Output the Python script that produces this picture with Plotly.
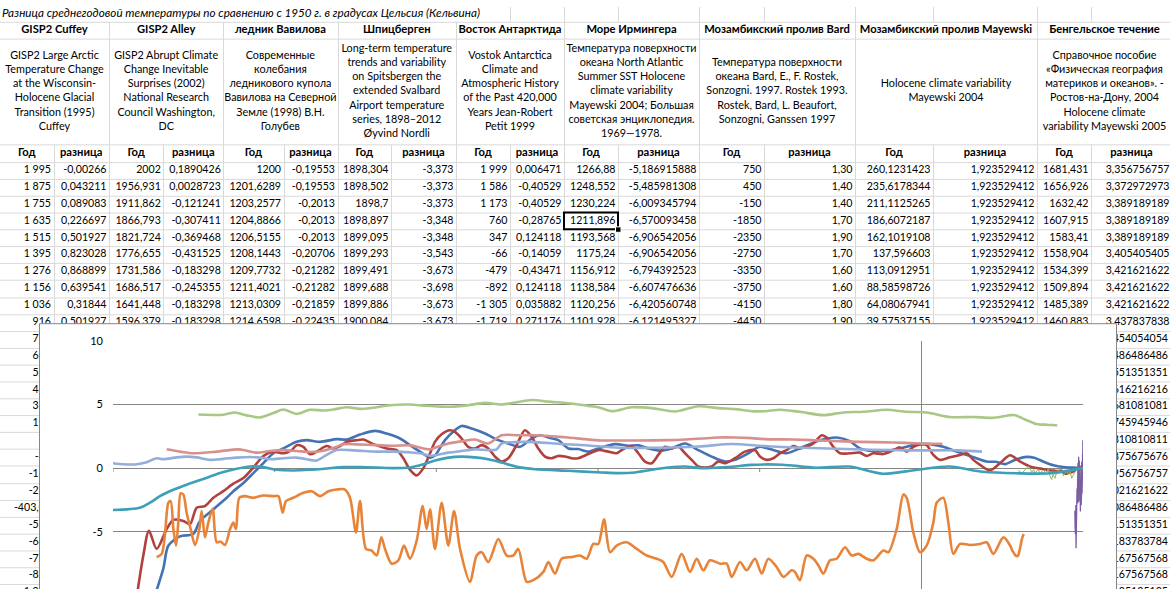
import plotly.graph_objects as go

# ======================= spreadsheet content =======================
SHEET_TITLE = "Разница среднегодовой температуры по сравнению с 1950 г. в градусах Цельсия (Кельвина)"
SOURCES = ["GISP2 Cuffey", "GISP2 Alley", "ледник Вавилова", "Шпицберген", "Восток Антарктида",
           "Море Ирмингера", "Мозамбикский пролив Bard", "Мозамбикский пролив Mayewski",
           "Бенгельское течение"]
DESCRIPTIONS = [
    "GISP2 Large Arctic<br>Temperature Change<br>at the Wisconsin-<br>Holocene Glacial<br>Transition (1995)<br>Cuffey",
    "GISP2 Abrupt Climate<br>Change Inevitable<br>Surprises (2002)<br>National Research<br>Council Washington,<br>DC",
    "Современные<br>колебания<br>ледникового купола<br>Вавилова на Северной<br>Земле (1998) В.Н.<br>Голубев",
    "Long-term temperature<br>trends and variability<br>on Spitsbergen the<br>extended Svalbard<br>Airport temperature<br>series, 1898–2012<br>Øyvind Nordli",
    "Vostok Antarctica<br>Climate and<br>Atmospheric History<br>of the Past 420,000<br>Years Jean-Robert<br>Petit 1999",
    "Температура поверхности<br>океана North Atlantic<br>Summer SST Holocene<br>climate variability<br>Mayewski 2004; Большая<br>советская энциклопедия.<br>1969—1978.",
    "Температура поверхности<br>океана Bard, E., F. Rostek,<br>Sonzogni. 1997. Rostek 1993.<br>Rostek, Bard, L. Beaufort,<br>Sonzogni, Ganssen 1997",
    "Holocene climate variability<br>Mayewski 2004",
    "Справочное пособие<br>«Физическая география<br>материков и океанов». -<br>Ростов-на-Дону, 2004<br>Holocene climate<br>variability Mayewski 2005",
]
SUBHEAD = ["Год", "разница"]
TABLE_ROWS = [
    ["1 995", "-0,00266", "2002", "0,1890426", "1200", "-0,19553", "1898,304", "-3,373", "1 999", "0,006471", "1266,88", "-5,186915888", "750", "1,30", "260,1231423", "1,923529412", "1681,431", "3,356756757"],
    ["1 875", "0,043211", "1956,931", "0,0028723", "1201,6289", "-0,19553", "1898,502", "-3,373", "1 586", "-0,40529", "1248,552", "-5,485981308", "450", "1,40", "235,6178344", "1,923529412", "1656,926", "3,372972973"],
    ["1 755", "0,089083", "1911,862", "-0,121241", "1203,2577", "-0,2013", "1898,7", "-3,373", "1 173", "-0,40529", "1230,224", "-6,009345794", "-150", "1,40", "211,1125265", "1,923529412", "1632,42", "3,389189189"],
    ["1 635", "0,226697", "1866,793", "-0,307411", "1204,8866", "-0,2013", "1898,897", "-3,348", "760", "-0,28765", "1211,896", "-6,570093458", "-1850", "1,70", "186,6072187", "1,923529412", "1607,915", "3,389189189"],
    ["1 515", "0,501927", "1821,724", "-0,369468", "1206,5155", "-0,2013", "1899,095", "-3,348", "347", "0,124118", "1193,568", "-6,906542056", "-2350", "1,90", "162,1019108", "1,923529412", "1583,41", "3,389189189"],
    ["1 395", "0,823028", "1776,655", "-0,431525", "1208,1443", "-0,20706", "1899,293", "-3,543", "-66", "-0,14059", "1175,24", "-6,906542056", "-2750", "1,70", "137,596603", "1,923529412", "1558,904", "3,405405405"],
    ["1 276", "0,868899", "1731,586", "-0,183298", "1209,7732", "-0,21282", "1899,491", "-3,673", "-479", "-0,43471", "1156,912", "-6,794392523", "-3350", "1,60", "113,0912951", "1,923529412", "1534,399", "3,421621622"],
    ["1 156", "0,639541", "1686,517", "-0,245355", "1211,4021", "-0,21282", "1899,688", "-3,698", "-892", "0,124118", "1138,584", "-6,607476636", "-3750", "1,60", "88,58598726", "1,923529412", "1509,894", "3,421621622"],
    ["1 036", "0,31844", "1641,448", "-0,183298", "1213,0309", "-0,21859", "1899,886", "-3,673", "-1 305", "0,035882", "1120,256", "-6,420560748", "-4150", "1,80", "64,08067941", "1,923529412", "1485,389", "3,421621622"],
    ["916", "0,501927", "1596,379", "-0,183298", "1214,6598", "-0,22435", "1900,084", "-3,673", "-1 719", "0,271176", "1101,928", "-6,121495327", "-4450", "1,90", "39,57537155", "1,923529412", "1460,883", "3,437837838"],
]
COL_A_BELOW = ["796", "676", "556", "436", "316", "196", "76", "-44", "-164", "-284", "-403,05",
               "-523", "-643", "-763", "-883", "-1 003"]
COL_R_BELOW = ["3,454054054", "3,486486486", "3,551351351", "3,616216216", "3,681081081",
               "3,745945946", "3,810810811", "3,875675676", "3,956756757", "4,021621622",
               "4,086486486", "4,151351351", "4,183783784", "4,167567568", "4,167567568",
               "4,135135135"]

# ======================= chart data (year, difference) =======================
CUFFEY_YEAR = [-9600, -9378, -9316, -9171, -9007, -8924, -8759, -8594, -8511, -8387, -8264, -8140, -8016,
               -7893, -7728, -7604, -7439, -7233, -7109, -6944, -6758, -6614, -6449, -6325, -6202, -6078,
               -6017, -5954, -5893, -5770, -5687, -5563, -5398, -5233, -5110, -4965, -4821, -4718, -4615,
               -4491, -4367, -4244, -4120, -3996, -3790, -3625, -3501, -3378, -3213, -3089, -2924, -2759,
               -2594, -2429, -2305, -2140, -1996, -1831, -1666, -1460, -1254, -1047, -883, -759, -594,
               -429, -264, -58, 107, 272, 437, 602, 808, 916, 1036, 1156, 1276, 1395, 1515, 1635, 1755,
               1875, 1995]
CUFFEY_DIFF = [-12.3, -7.9, -6.1, -5.36, -5.18, -4.15, -3.24, -2.33, -1.81, -1.17, -0.39, 0.39, 1.17,
               1.55, 2.07, 2.2, 2.07, 2.28, 2.25, 2.64, 2.93, 2.72, 2.33, 1.81, 1.3, 0.83,
               1.0, 1.6, 2.2, 2.98, 3.32, 3.11, 2.72, 2.2, 1.94, 1.68, 2.33, 2.59, 2.41,
               2.2, 1.55, 1.5, 1.3, 1.55, 1.89, 1.76, 1.79, 1.55, 1.37, 1.55, 1.94, 1.42,
               0.91, 0.52, 0.65, 1.17, 1.68, 1.42, 1.17, 1.68, 2.2, 2.41, 2.12, 1.55, 1.35,
               1.37, 1.55, 1.87, 1.89, 1.68, 1.3, 0.96, 0.52, 0.501927, 0.31844, 0.639541, 0.868899,
               0.823028, 0.501927, 0.226697, 0.089083, 0.043211, -0.00266]

ALLEY_YEAR = [-9750, -9625, -9555, -9460, -9336, -9254, -9130, -9047, -8965, -8862, -8759, -8635, -8511,
              -8387, -8264, -8140, -8016, -7893, -7790, -7728, -7645, -7563, -7480, -7356, -7274, -7191,
              -7109, -6985, -6903, -6779, -6614, -6490, -6408, -6325, -6243, -6160, -6078, -6017, -5935,
              -5831, -5770, -5687, -5605, -5522, -5440, -5357, -5275, -5192, -5110, -5007, -4904, -4821,
              -4739, -4656, -4574, -4491, -4409, -4326, -4244, -4120, -3996, -3873, -3769, -3708, -3584,
              -3501, -3419, -3336, -3254, -3171, -3089, -3006, -2924, -2841, -2759, -2677, -2594, -2512,
              -2429, -2305, -2182, -2058, -1996, -1914, -1831, -1749, -1666, -1584, -1501, -1419, -1336,
              -1233, -1171, -1089, -1006, -883, -759, -677, -594, -470, -346, -264, -181, -99, -16, 66,
              148, 231, 355, 478, 561, 643, 726, 850, 973, 1097, 1221, 1344, 1509, 1596.379, 1641.448,
              1686.517, 1731.586, 1776.655, 1821.724, 1866.793, 1911.862, 1956.931, 2002]
ALLEY_DIFF = [-12.0, -6.87, -4.92, -6.35, -4.79, -4.07, -4.15, -4.4, -3.11, -2.98, -2.33, -1.81, -1.22,
              -0.78, 0.05, 0.96, 1.3, 1.17, 1.42, 1.81, 1.68, 1.09, 1.3, 1.74, 1.55, 1.74,
              2.07, 2.2, 2.25, 1.89, 1.55, 1.42, 0.78, -0.13, -0.57, 0.0, 1.17, 2.07, 2.67,
              2.98, 2.85, 2.33, 1.68, 1.55, 1.81, 1.55, 0.91, 0.52, 0.78, 1.81, 2.98, 2.46,
              1.55, 0.91, 0.78, 0.96, 0.91, 0.78, 0.78, 1.11, 1.42, 1.3, 1.17, 1.42, 1.74,
              1.17, 0.52, 0.39, 1.04, 1.68, 1.55, 1.68, 1.17, 0.65, 0.13, 0.05, 0.13, 0.52,
              0.39, 0.78, 1.3, 1.42, 0.91, 0.65, 0.78, 1.17, 1.42, 1.74, 1.55, 1.68, 1.94,
              2.59, 2.41, 1.68, 1.17, 1.17, 1.22, 0.96, 1.17, 1.11, 1.42, 1.63, 1.3, 1.68, 1.87, 1.81,
              1.04, 0.65, 0.85, 1.04, 1.17, 0.65, 0.26, -0.18, 0.39, 1.01, 0.52, 0.13, -0.08, -0.183298, -0.183298,
              -0.245355, -0.183298, -0.431525, -0.369468, -0.307411, -0.121241, 0.0028723, 0.1890426]

VAVILOV_YEAR = [1200, 1201.6289, 1203.2577, 1204.8866, 1206.5155, 1208.1443, 1209.7732, 1211.4021,
                1213.0309, 1214.6598, 1230, 1262, 1290, 1324, 1345, 1365, 1390, 1406, 1430, 1448, 1470,
                1489, 1510, 1530, 1550, 1571, 1590, 1612, 1630, 1654, 1675, 1695, 1715, 1736, 1757,
                1777, 1800, 1819, 1840, 1860, 1880, 1901, 1930, 1960]
VAVILOV_DIFF = [-0.19553, -0.19553, -0.2013, -0.2013, -0.2013, -0.20706, -0.21282, -0.21282,
                -0.21859, -0.22435, -0.5, -0.3, -0.1, 0.15, 0.0, -0.35, -0.1, -0.4, -0.2, -0.1, -0.45,
                -0.25, -0.5, -0.15, -0.3, -0.05, -0.6, -0.9, -0.5, -0.8, -0.3, -0.1, -0.4, -0.2, -0.6,
                -0.4, -0.2, -0.5, -0.2, -0.8, -0.5, -0.3, -0.1, 0.1]

SPITS_YEAR = [1898.304, 1898.502, 1898.7, 1898.897, 1899.095, 1899.293, 1899.491, 1899.688, 1899.886,
              1900.084, 1902, 1904, 1906, 1908, 1910, 1912, 1914, 1916, 1918, 1920, 1922, 1924, 1926,
              1928, 1930, 1932, 1934, 1936, 1938, 1940, 1942, 1944, 1946, 1948, 1950, 1952, 1954, 1956,
              1958, 1960, 1962, 1964, 1966, 1968, 1970, 1972, 1974, 1976, 1978, 1980, 1982, 1984, 1986,
              1988, 1990, 1992, 1994, 1996, 1998, 2000, 2002, 2004, 2006, 2008, 2010, 2012]
SPITS_DIFF = [-3.373, -3.373, -3.373, -3.348, -3.348, -3.543, -3.673, -3.698, -3.673,
              -3.673, -4.6, -3.1, -5.2, -3.8, -4.9, -2.9, -6.3, -4.1, -5.6, -3.2, -2.1, -3.9, -1.6,
              -2.8, -0.9, -2.4, -0.6, -1.9, 0.4, -1.3, -2.7, -0.8, 0.9, -1.1, -0.3, -2.2, 0.6, -1.4,
              -0.5, -2.6, -1.2, -3.0, -1.8, -3.4, -1.0, -2.1, 0.2, -1.5, -2.9, -0.7, -1.9, 0.5, -1.2,
              -2.0, 0.3, -0.9, 1.1, -0.4, 2.2, 0.6, 1.5, -0.2, 1.8, 0.4, 1.2, 0.2]

VOSTOK_YEAR = [-10000, -9666, -9542, -9419, -9253, -9089, -8882, -8676, -8470, -8305, -8140, -7975, -7769,
               -7563, -7356, -7150, -6944, -6738, -6532, -6325, -6160, -6017, -5852, -5687, -5522, -5357,
               -5192, -4986, -4780, -4367, -3955, -3749, -3543, -3336, -3130, -2924, -2718, -2511, -2305,
               -2099, -1719, -1305, -892, -479, -66, 347, 760, 1173, 1586, 1999]
VOSTOK_DIFF = [-3.29, -3.11, -2.72, -2.2, -1.7, -1.3, -0.85, -0.39, -0.05, 0.13, 0.08, -0.13, -0.18,
               -0.13, -0.03, 0.08, 0.08, 0.05, 0.0, 0.05, 0.3, 0.6, 0.83, 0.91, 0.85, 0.7,
               0.44, 0.08, -0.08, -0.21, -0.34, -0.39, -0.34, -0.13, 0.05, 0.13, 0.0, 0.05, 0.13,
               0.26, 0.271176, 0.035882, 0.124118, -0.43471, -0.14059, 0.124118, -0.28765, -0.40529,
               -0.40529, 0.006471]

IRMINGER_YEAR = [-9460, -9398, -9357, -9315, -9287, -9253, -9220, -9192, -9163, -9130, -9089, -9039, -8985,
                 -8932, -8903, -8862, -8820, -8767, -8717, -8668, -8614, -8552, -8511, -8478, -8437, -8367,
                 -8264, -8140, -8016, -7955, -7901, -7860, -7769, -7645, -7542, -7439, -7336, -7233, -7130,
                 -7068, -6994, -6944, -6870, -6800, -6738, -6680, -6635, -6553, -6470, -6400, -6326, -6243,
                 -6169, -6120, -6078, -6017, -5934, -5852, -5781, -5707, -5584, -5501, -5439, -5357, -5233,
                 -5130, -5047, -4986, -4882, -4800, -4676, -4614, -4532, -4449, -4326, -4223, -4140, -4058,
                 -3996, -3926, -3851, -3769, -3645, -3521, -3398, -3274, -3192, -3088, -2965, -2862, -2779,
                 -2697, -2614, -2490, -2408, -2346, -2243, -2161, -2058, -1975, -1893, -1790, -1707, -1604,
                 -1563, -1501, -1418, -1336, -1274, -1212, -1130, -1047, -944, -862, -779, -676, -594, -470,
                 -408, -305, -222, -181, -99, -16, 66, 149, 190, 272, 334, 396, 479, 602, 726, 809, 891,
                 1015, 1101.928, 1120.256, 1138.584, 1156.912, 1175.24, 1193.568, 1211.896, 1230.224,
                 1248.552, 1266.88]
IRMINGER_DIFF = [-7.0, -6.74, -5.18, -2.72, -2.59, -4.79, -6.09, -4.27, -1.99, -2.07, -3.5, -4.79, -6.04,
                 -4.79, -3.37, -5.44, -4.27, -3.19, -5.83, -5.78, -6.04, -4.79, -4.27, -4.79, -2.33, -2.2,
                 -2.33, -2.15, -2.2, -2.2, -3.5, -2.59, -2.33, -1.94, -1.81, -2.2, -1.81, -1.68, -1.68,
                 -2.33, -5.05, -2.59, -6.35, -6.48, -6.87, -5.44, -6.35, -7.51, -7.25, -6.09, -7.12, -5.7,
                 -2.98, -4.79, -3.24, -6.35, -2.72, -6.09, -3.37, -6.35, -8.94, -6.87, -6.61, -7.38, -5.57,
                 -6.87, -6.87, -6.35, -8.94, -8.81, -8.16, -7.38, -8.29, -7.12, -6.99, -6.87, -7.12, -5.96,
                 -5.96, -4.02, -6.61, -6.09, -5.83, -6.35, -6.87, -7.12, -7.38, -8.55, -6.74, -8.16, -7.12,
                 -8.03, -7.25, -7.51, -7.51, -8.55, -7.38, -8.03, -7.12, -8.29, -7.12, -7.77, -8.55, -8.03,
                 -8.16, -8.81, -6.87, -7.12, -7.64, -8.29, -7.25, -7.12, -6.22, -6.87, -6.74, -7.12, -7.25, -6.48,
                 -6.61, -4.79, -2.07, -2.33, -5.05, -6.61, -6.09, -4.27, -2.72, -2.33, -4.27, -6.74, -5.96, -6.04, -5.96, -5.83, -6.74,
                 -5.44, -6.121495327, -6.420560748, -6.607476636, -6.794392523, -6.906542056, -6.906542056,
                 -6.570093458, -6.009345794, -5.485981308, -5.186915888]

BARD_YEAR = [-10000, -9872, -9707, -9583, -9460, -9377, -9212, -9089, -8965, -8800, -8635, -8470, -8305,
             -8181, -8058, -7893, -7728, -7563, -7480, -7356, -7233, -7068, -6903, -6738, -6532, -6325,
             -6202, -6078, -5954, -5852, -5687, -5522, -5357, -5254, -5192, -5027, -4780, -4532, -4450,
             -4150, -3750, -3350, -2750, -2350, -1850, -150, 450, 750]
BARD_DIFF = [0.39, 0.31, 0.31, 0.47, 0.78, 0.7, 0.85, 0.91, 0.85, 0.65, 0.73, 0.83, 0.88,
             0.83, 0.7, 0.78, 0.83, 0.65, 0.6, 1.04, 1.42, 1.42, 1.35, 1.3, 1.3, 1.24,
             1.17, 0.98, 1.09, 1.22, 1.35, 1.48, 1.42, 1.48, 1.94, 2.05, 2.05, 1.94, 1.9,
             1.8, 1.6, 1.6, 1.7, 1.9, 1.7, 1.4, 1.4, 1.3]

MAYEWSKI_YEAR = [-9336, -9171, -9006, -8717, -8449, -8346, -8223, -8058, -7893, -7728, -7563, -7398, -7233,
                 -7150, -6985, -6738, -6532, -6325, -6160, -6078, -6017, -5852, -5687, -5522, -5357, -5192,
                 -4986, -4780, -4574, -4367, -4161, -3955, -3543, -3130, -2924, -2718, -2511, -2305, -2099,
                 -1934, -1584, -1171, -759, -346, -16, 39.57537155, 64.08067941, 88.58598726, 113.0912951,
                 137.596603, 162.1019108, 186.6072187, 211.1125265, 235.6178344, 260.1231423]
MAYEWSKI_DIFF = [1.48, 1.3, 1.17, 1.3, 1.48, 1.37, 1.22, 1.35, 1.42, 1.35, 1.27, 1.37, 1.68,
                 1.89, 1.87, 1.81, 1.76, 1.79, 1.55, 1.48, 1.6, 1.94, 2.12, 2.25, 1.94, 2.59,
                 2.59, 2.59, 2.51, 2.41, 2.28, 2.18, 2.18, 2.2, 2.25, 2.33, 2.41, 2.41, 2.36,
                 2.28, 2.25, 2.15, 2.07, 2.02, 1.94, 1.923529412, 1.923529412, 1.923529412, 1.923529412,
                 1.923529412, 1.923529412, 1.923529412, 1.923529412, 1.923529412, 1.923529412]

BENGUELA_YEAR = [-8944, -8635, -8491, -8346, -8181, -8016, -7893, -7728, -7563, -7398, -7274, -7109, -6944,
                 -6820, -6573, -6325, -6160, -5954, -5770, -5605, -5398, -5192, -5027, -4821, -4615, -4367,
                 -4120, -3996, -3831, -3584, -3336, -3047, -2759, -2511, -2305, -2099, -1934, -1749, -1501,
                 -1212, -965, -718, -429, -181, 66, 355, 643, 891, 1068.798, 1093.303, 1117.809, 1142.314,
                 1166.819, 1191.325, 1215.83, 1240.335, 1264.841, 1289.346, 1313.851, 1338.357, 1362.862,
                 1387.367, 1411.873, 1436.378, 1460.883, 1485.389, 1509.894, 1534.399, 1558.904, 1583.41,
                 1607.915, 1632.42, 1656.926, 1681.431]
BENGUELA_DIFF = [4.22, 4.2, 4.38, 4.15, 3.99, 4.33, 4.61, 4.27, 4.59, 4.53, 4.61, 4.79, 4.66,
                 4.72, 4.95, 5.0, 4.92, 4.84, 4.84, 4.95, 5.13, 5.0, 5.16, 5.36, 5.23, 5.1,
                 4.9, 4.79, 4.48, 4.79, 4.72, 4.46, 4.87, 4.72, 4.64, 4.48, 4.48, 4.59, 4.43,
                 4.17, 4.38, 4.43, 4.59, 4.43, 4.38, 4.02, 4.02, 3.96, 4.135135135, 4.167567568,
                 4.167567568, 4.183783784, 4.151351351, 4.086486486, 4.021621622, 3.956756757,
                 3.875675676, 3.810810811, 3.745945946, 3.681081081, 3.616216216, 3.551351351,
                 3.486486486, 3.454054054, 3.437837838, 3.421621622, 3.421621622, 3.421621622,
                 3.405405405, 3.389189189, 3.389189189, 3.389189189, 3.372972973, 3.356756757]

Y_TICKS = [-10, -5, 0, 5, 10]
Y_TICK_TEXT = ["-10", "-5", "0", "5", "10"]
X_TICKS = [-10000, -8000, -6000, -4000, -2000, 0, 2000]

# ======================= geometry & styles =======================
W, H = 1170, 589
FONT = "Lato, Roboto, sans-serif"
GRID = "#D9D9D9"
COL_X = [0, 53.5, 109, 163.3, 223.3, 283.5, 337.5, 391, 456, 510, 564, 618, 699, 764, 855, 933,
         1037, 1091, 1172]
ROW_TITLE = (0, 15)
ROW_HEAD = (15, 32.3)
ROW_DESC = (32.3, 139.3)
ROW_SUB = (139.3, 156.7)
ROW0, ROW_H = 156.7, 17.1
N_ROWS = 26
TITLE_END = 484
CHART_L, CHART_T, CHART_R = 39.5, 320.5, 1116.5
PLOT_L, PLOT_R = 113, 1083
PLOT_TOP_PX, PLOT_ZERO_PX = 338, 466.7
PAD = 2.5
SEL_COL, SEL_ROW = 10, 3

SERIES = [
    ("GISP2 Cuffey", CUFFEY_YEAR, CUFFEY_DIFF, "#4572B5", 2.6, "spline"),
    ("GISP2 Alley", ALLEY_YEAR, ALLEY_DIFF, "#B2413E", 2.6, "spline"),
    ("ледник Вавилова", VAVILOV_YEAR, VAVILOV_DIFF, "#8FB85C", 1.0, "linear"),
    ("Шпицберген", SPITS_YEAR, SPITS_DIFF, "#7B5EA0", 1.3, "linear"),
    ("Восток Антарктида", VOSTOK_YEAR, VOSTOK_DIFF, "#3CA0B8", 2.6, "spline"),
    ("Море Ирмингера", IRMINGER_YEAR, IRMINGER_DIFF, "#E8843A", 2.6, "spline"),
    ("Мозамбикский пролив Bard", BARD_YEAR, BARD_DIFF, "#93AEDA", 2.6, "spline"),
    ("Мозамбикский пролив Mayewski", MAYEWSKI_YEAR, MAYEWSKI_DIFF, "#D8908E", 2.6, "spline"),
    ("Бенгельское течение", BENGUELA_YEAR, BENGUELA_DIFF, "#A9C887", 2.6, "spline"),
]

fig = go.Figure()


def row_center(k):
    return ROW0 + ROW_H * (k + 0.5)


def text_trace(xs, ys, texts, pos, size, name):
    return go.Scatter(x=xs, y=ys, text=texts, mode="text", textposition=pos,
                      textfont=dict(family=FONT, size=size, color="#000000"),
                      hoverinfo="skip", showlegend=False, name=name, xaxis="x", yaxis="y",
                      cliponaxis=True)


# ---- sheet text (subplot x/y, pixel coordinates) ----
fig.add_trace(text_trace([2], [sum(ROW_TITLE) / 2], ["<i>" + SHEET_TITLE + "</i>"],
                         "middle right", 11.7, "title"))
group_cx = [(COL_X[2 * g] + COL_X[2 * g + 2]) / 2 for g in range(len(SOURCES))]
fig.add_trace(text_trace(group_cx, [sum(ROW_HEAD) / 2] * len(SOURCES),
                         ["<b>" + s + "</b>" for s in SOURCES], "middle center", 11.2, "heads"))
fig.add_trace(text_trace(group_cx, [sum(ROW_DESC) / 2] * len(DESCRIPTIONS), DESCRIPTIONS,
                         "middle center", 10.8, "desc"))
sub_x = [(COL_X[c] + COL_X[c + 1]) / 2 for c in range(18)]
fig.add_trace(text_trace(sub_x, [sum(ROW_SUB) / 2] * 18,
                         ["<b>" + SUBHEAD[c % 2] + "</b>" for c in range(18)],
                         "middle center", 11.2, "sub"))
nx, ny, nt = [], [], []
for k, row in enumerate(TABLE_ROWS):
    for c, val in enumerate(row):
        nx.append(COL_X[c + 1] - PAD)
        ny.append(row_center(k))
        nt.append(val)
for j, val in enumerate(COL_A_BELOW):
    nx.append(COL_X[1] - PAD)
    ny.append(row_center(len(TABLE_ROWS) + j))
    nt.append(val)
for j, val in enumerate(COL_R_BELOW):
    nx.append(1168)
    ny.append(row_center(len(TABLE_ROWS) + j))
    nt.append(val)
fig.add_trace(text_trace(nx, ny, nt, "middle left", 10.6, "numbers"))

# ---- sheet gridlines (below everything) ----
shapes = []


def seg(x0, y0, x1, y1, color=GRID, width=1):
    shapes.append(dict(type="line", xref="x", yref="y", x0=x0, y0=y0, x1=x1, y1=y1,
                       line=dict(color=color, width=width), layer="below"))


hlines = [ROW_TITLE[1], ROW_HEAD[1], ROW_DESC[1], ROW_SUB[1]] + [ROW0 + ROW_H * (k + 1) for k in range(N_ROWS)]
for y in hlines:
    seg(0, round(y) + 0.5, W, round(y) + 0.5)
for x in COL_X[1:-1]:
    xp = round(x) + 0.5
    if x > TITLE_END:
        seg(xp, ROW_TITLE[0], xp, ROW_TITLE[1])
    seg(xp, ROW_SUB[0], xp, H)
for g in range(1, len(SOURCES)):
    xp = round(COL_X[2 * g]) + 0.5
    seg(xp, ROW_HEAD[0], xp, ROW_DESC[1])
# selected cell + fill handle
sx0, sx1 = round(COL_X[SEL_COL]), round(COL_X[SEL_COL + 1])
sy0, sy1 = round(ROW0 + ROW_H * SEL_ROW), round(ROW0 + ROW_H * (SEL_ROW + 1))
shapes.append(dict(type="rect", xref="x", yref="y", x0=sx0, y0=sy0, x1=sx1, y1=sy1,
                   line=dict(color="#000000", width=2), layer="below"))
shapes.append(dict(type="rect", xref="x", yref="y", x0=sx1 - 2.5, y0=sy1 - 2.5, x1=sx1 + 3, y1=sy1 + 3,
                   line=dict(color="#FFFFFF", width=1), fillcolor="#000000", layer="below"))

# ---- chart area (subplot x2/y2, pixel coordinates) ----
fig.add_trace(go.Scatter(x=[CHART_L, CHART_R, CHART_R, CHART_L, CHART_L],
                         y=[CHART_T, CHART_T, H + 20, H + 20, CHART_T],
                         mode="lines", fill="toself", fillcolor="#FFFFFF",
                         line=dict(color="#868686", width=1), hoverinfo="skip",
                         showlegend=False, xaxis="x2", yaxis="y2"))

# ---- chart series (subplot x3/y3) ----
for name, xs, ys, color, width, shape in SERIES:
    fig.add_trace(go.Scatter(x=xs, y=ys, name=name, mode="lines",
                             line=dict(color=color, width=width, shape=shape,
                                       smoothing=0.8 if shape == "spline" else None),
                             hoverinfo="skip", showlegend=False, xaxis="x3", yaxis="y3"))

# x axis tick marks hanging below the zero line
for t in X_TICKS:
    shapes.append(dict(type="line", xref="x3", yref="y3", ysizemode="pixel", yanchor=0,
                       x0=t, x1=t, y0=0, y1=-4, line=dict(color="#868686", width=1)))

y_bottom = -(H - PLOT_ZERO_PX) / ((PLOT_ZERO_PX - PLOT_TOP_PX) / 10)

fig.update_layout(
    width=W, height=H, margin=dict(l=0, r=0, t=0, b=0),
    paper_bgcolor="#FFFFFF", plot_bgcolor="rgba(0,0,0,0)", showlegend=False,
    shapes=shapes,
    xaxis=dict(domain=[0, 1], range=[0, W], visible=False, fixedrange=True),
    yaxis=dict(domain=[0, 1], range=[H, 0], visible=False, fixedrange=True),
    xaxis2=dict(domain=[0, 1], range=[0, W], visible=False, anchor="y2", fixedrange=True),
    yaxis2=dict(domain=[0, 1], range=[H, 0], visible=False, anchor="x2", fixedrange=True),
    xaxis3=dict(domain=[PLOT_L / W, PLOT_R / W], range=[X_TICKS[0], X_TICKS[-1]], anchor="y3",
                showgrid=False, zeroline=True, zerolinecolor="#868686", zerolinewidth=1,
                showticklabels=False, ticks="", showline=False, fixedrange=True),
    yaxis3=dict(domain=[0, (H - PLOT_TOP_PX) / H], range=[y_bottom, 10], anchor="x3",
                tickvals=Y_TICKS, ticktext=Y_TICK_TEXT, showgrid=True, gridcolor="#868686",
                gridwidth=1, zeroline=True, zerolinecolor="#868686", zerolinewidth=1,
                ticks="", showline=False, ticklabelstandoff=9,
                tickfont=dict(family=FONT, size=11, color="#000000"), fixedrange=True),
)

fig.write_html(
    "out.html",
    config={"displayModeBar": False, "staticPlot": True},
    post_script="document.body.style.margin='0px';document.body.style.padding='0px';"
                "document.body.style.overflow='hidden';",
)
